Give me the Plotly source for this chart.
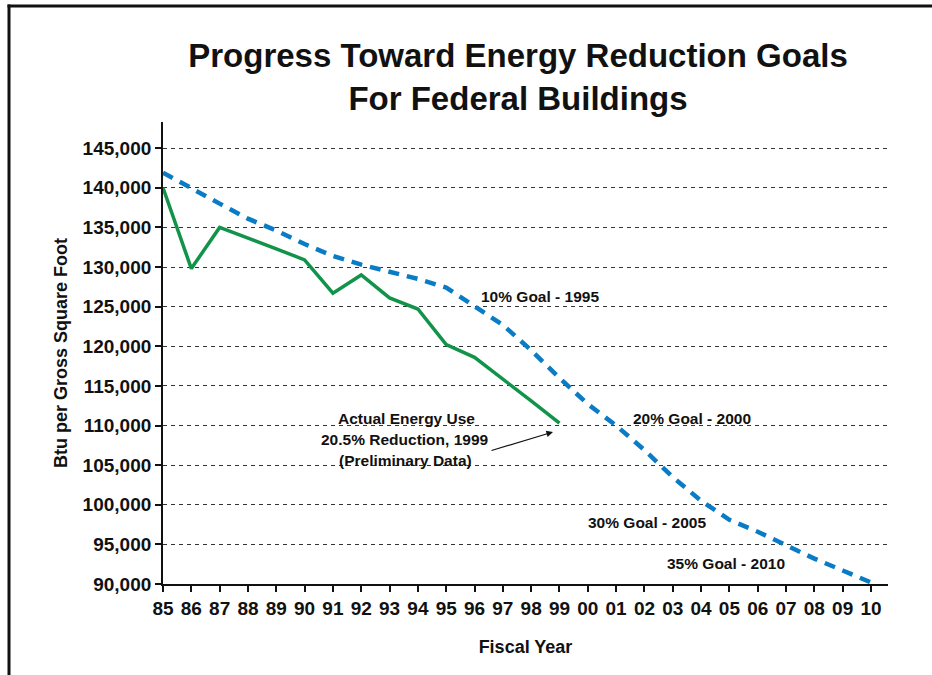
import plotly.graph_objects as go

# ---- data ----
years = list(range(1985, 2011))
year_labels = ["85", "86", "87", "88", "89", "90", "91", "92", "93", "94", "95", "96", "97",
               "98", "99", "00", "01", "02", "03", "04", "05", "06", "07", "08", "09", "10"]

actual_years = list(range(1985, 2000))
actual_use = [140000, 129800, 135000, 133700, 132300, 130900, 126700, 129000, 126100,
              124700, 120200, 118600, 115900, 113100, 110300]

goal_years = list(range(1985, 2011))
goal_path = [141900, 139900, 138000, 136100, 134600, 132900, 131400, 130300, 129400,
             128500, 127400, 125000, 122700, 119500, 116000, 112700, 110000, 106900,
             103500, 100500, 98100, 96600, 94900, 93200, 91700, 90200]

y_ticks = [90000, 95000, 100000, 105000, 110000, 115000, 120000, 125000, 130000,
           135000, 140000, 145000]

FONT = "Liberation Sans, Arial, Helvetica, sans-serif"
GREEN = "#11934a"
BLUE = "#0a7cc6"

fig = go.Figure()
fig.add_trace(go.Scatter(x=goal_years, y=goal_path, mode="lines",
                         line=dict(color=BLUE, width=4.5, dash="11px,8px"),
                         hoverinfo="skip", showlegend=False))
fig.add_trace(go.Scatter(x=actual_years, y=actual_use, mode="lines",
                         line=dict(color=GREEN, width=3.5),
                         hoverinfo="skip", showlegend=False))

L, R, T, B = 163, 888, 122, 584
W, H = 932, 675


def px(xp):
    return (xp - L) / (R - L)


def py(yp):
    return (B - yp) / (B - T)


def txt(text, xp, yp, size=15.5):
    return dict(text=text, x=px(xp), y=py(yp), xref="paper", yref="paper",
                showarrow=False, xanchor="center", yanchor="middle",
                font=dict(family=FONT, size=size, color="#111", weight="bold"))


annotations = [
    txt("10% Goal - 1995", 540, 296),
    txt("Actual Energy Use", 406, 418),
    txt("20.5% Reduction, 1999", 405, 439),
    txt("(Preliminary Data)", 405, 460),
    txt("20% Goal - 2000", 692, 418),
    txt("30% Goal - 2005", 647, 522),
    txt("35% Goal - 2010", 726, 563),
    dict(text="", x=px(553), y=py(432), xref="paper", yref="paper",
         ax=490 - 553, ay=451 - 432, axref="pixel", ayref="pixel",
         showarrow=True, arrowhead=2, arrowsize=1.1, arrowwidth=1.2, arrowcolor="#111"),
]

shapes = [
    dict(type="line", xref="paper", yref="paper", x0=px(9), x1=px(9), y0=py(4.5), y1=py(H + 5),
         line=dict(color="#111", width=3)),
    dict(type="line", xref="paper", yref="paper", x0=px(7.5), x1=px(W + 5), y0=py(6), y1=py(6),
         line=dict(color="#111", width=3)),
]

fig.update_layout(
    width=W, height=H,
    margin=dict(l=L, r=W - R, t=T, b=H - B),
    paper_bgcolor="white", plot_bgcolor="white",
    title=dict(text="Progress Toward Energy Reduction Goals<br>For Federal Buildings",
               x=px(518), xref="paper", xanchor="center",
               y=1 - 67 / H, yref="container", yanchor="middle",
               font=dict(family=FONT, size=33, color="#111", weight="bold")),
    font=dict(family=FONT, color="#111"),
    annotations=annotations,
    shapes=shapes,
    xaxis=dict(range=[1985, 1985 + (R - L) / 28.32], tickvals=years, ticktext=year_labels,
               ticks="outside", ticklen=6, tickwidth=1.5, tickcolor="#111",
               showline=True, linecolor="#111", linewidth=2.2, showgrid=False, zeroline=False,
               tickfont=dict(family=FONT, size=19, color="#111", weight="bold"),
               title=dict(text="Fiscal Year", standoff=22,
                          font=dict(family=FONT, size=18, color="#111", weight="bold"))),
    yaxis=dict(range=[90000, 148300], tickvals=y_ticks, tickformat=",d",
               ticks="outside", ticklen=6, tickwidth=1.5, tickcolor="#111",
               showline=True, linecolor="#111", linewidth=1.8,
               showgrid=True, gridcolor="#333", gridwidth=1, griddash="4px,4px",
               zeroline=False,
               tickfont=dict(family=FONT, size=19, color="#111", weight="bold"),
               title=dict(text="Btu per Gross Square Foot", standoff=10,
                          font=dict(family=FONT, size=18, color="#111", weight="bold"))),
)

fig.write_html("out.html", config={"displayModeBar": False},
               post_script="document.body.style.margin='0px';")
